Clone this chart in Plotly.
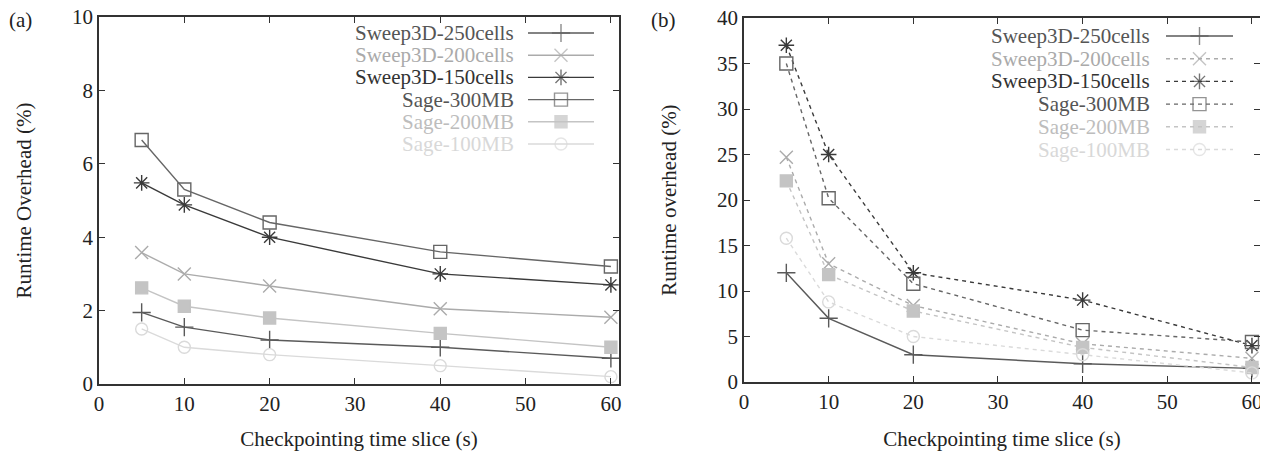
import plotly.graph_objects as go

# ---------------- data ----------------
x_slices = [5, 10, 20, 40, 60]
series_names = ["Sweep3D-250cells", "Sweep3D-200cells", "Sweep3D-150cells",
                "Sage-300MB", "Sage-200MB", "Sage-100MB"]

a_sweep250 = [1.95, 1.55, 1.2, 1.0, 0.7]
a_sweep200 = [3.58, 3.0, 2.67, 2.05, 1.82]
a_sweep150 = [5.48, 4.88, 4.0, 3.0, 2.7]
a_sage300 = [6.65, 5.3, 4.4, 3.6, 3.2]
a_sage200 = [2.62, 2.12, 1.8, 1.38, 1.0]
a_sage100 = [1.5, 1.0, 0.8, 0.5, 0.2]

b_sweep250 = [12.0, 7.0, 3.0, 2.0, 1.5]
b_sweep200 = [24.7, 13.0, 8.4, 4.2, 2.6]
b_sweep150 = [37.0, 25.0, 12.0, 9.0, 4.0]
b_sage300 = [35.0, 20.2, 10.8, 5.7, 4.4]
b_sage200 = [22.1, 11.8, 7.8, 3.8, 1.6]
b_sage100 = [15.8, 8.8, 5.0, 3.0, 1.0]

x_ticks = [0, 10, 20, 30, 40, 50, 60]
a_y_ticks = [0, 2, 4, 6, 8, 10]
b_y_ticks = [0, 5, 10, 15, 20, 25, 30, 35, 40]

# ---------------- layout constants (window pixels) ----------------
W, H = 1268, 451
OFF = 8                      # default page body margin in the browser
FW, FH = W - OFF, H - OFF    # figure size so that it fills the window


def px_x(p):
    return (p - OFF) / FW


def px_y(p):
    return 1 - (p - OFF) / FH


FONT = "Liberation Serif, Times New Roman, DejaVu Serif, serif"
colors = ["#5a5a5a", "#ababab", "#3a3a3a", "#666666", "#c4c4c4", "#dadada"]
text_colors = ["#555555", "#aaaaaa", "#333333", "#555555", "#bdbdbd", "#d8d8d8"]
symbols = ["cross-thin-open", "x-thin-open", "asterisk-open", "square-open", "square", "circle-open"]
sizes = [13, 13, 13, 13, 12, 12]
a_dash = ["solid"] * 6
b_dash = ["solid", "4px,4px", "4px,4px", "4px,4px", "4px,4px", "4px,4px"]

a_data = [a_sweep250, a_sweep200, a_sweep150, a_sage300, a_sage200, a_sage100]
b_data = [b_sweep250, b_sweep200, b_sweep150, b_sage300, b_sage200, b_sage100]

fig = go.Figure()


def add_panel(data, dashes, xa, ya):
    for i, ys in enumerate(data):
        fig.add_trace(go.Scatter(
            x=x_slices, y=ys, mode="lines+markers", xaxis=xa, yaxis=ya,
            name=series_names[i], showlegend=False,
            line=dict(color=colors[i], width=1.4, dash=dashes[i]),
            marker=dict(symbol=symbols[i], size=sizes[i], color=colors[i],
                        line=dict(color=colors[i], width=1.4)),
        ))


add_panel(a_data, a_dash, "x", "y")
add_panel(b_data, b_dash, "x2", "y2")

# ---------------- custom gnuplot-like legends (text left, sample right) ----------------
legend_specs = [
    dict(text_right=516, x0=528, x1=594, y0=33, dy=22.2, dashes=a_dash),
    dict(text_right=1152, x0=1166, x1=1233, y0=36, dy=22.7, dashes=b_dash),
]
annotations = []
for spec in legend_specs:
    for i, name in enumerate(series_names):
        yy = spec["y0"] + i * spec["dy"]
        xm = (spec["x0"] + spec["x1"]) / 2
        fig.add_trace(go.Scatter(
            x=[spec["x0"], xm, spec["x1"]], y=[yy, yy, yy], xaxis="x3", yaxis="y3",
            mode="lines+markers", showlegend=False, hoverinfo="skip",
            line=dict(color=colors[i], width=1.4, dash=spec["dashes"][i]),
            marker=dict(symbol=symbols[i], size=[0, sizes[i], 0], color=colors[i],
                        line=dict(color=colors[i], width=1.4)),
        ))
        annotations.append(dict(
            x=spec["text_right"], y=yy, xref="x3", yref="y3", text=name,
            showarrow=False, xanchor="right", yanchor="middle",
            font=dict(family=FONT, size=21, color=text_colors[i]),
        ))

annotations.append(dict(x=20, y=20, xref="x3", yref="y3", text="(a)", showarrow=False,
                        font=dict(family=FONT, size=21, color="#222222")))
annotations.append(dict(x=663, y=20, xref="x3", yref="y3", text="(b)", showarrow=False,
                        font=dict(family=FONT, size=21, color="#222222")))

axis_common = dict(
    showline=True, linecolor="#333333", linewidth=1.6, mirror="ticks",
    ticks="inside", ticklen=6, tickwidth=1.2, tickcolor="#333333",
    showgrid=False, zeroline=False, ticklabeloverflow="allow", automargin=False,
    tickfont=dict(family=FONT, size=21, color="#222222"),
    title_font=dict(family=FONT, size=21, color="#222222"),
)

fig.update_layout(
    width=FW, height=FH,
    margin=dict(l=0, r=0, t=0, b=0, pad=0, autoexpand=False),
    paper_bgcolor="white", plot_bgcolor="rgba(0,0,0,0)",
    annotations=annotations,
    xaxis=dict(domain=[px_x(99), px_x(619)], range=[0, 60.95], tickvals=x_ticks,
               title=dict(text="Checkpointing time slice (s)", standoff=18),
               anchor="y", **axis_common),
    yaxis=dict(domain=[px_y(384), px_y(17)], range=[0, 10], tickvals=a_y_ticks,
               title=dict(text="Runtime Overhead (%)", standoff=35),
               anchor="x", **axis_common),
    xaxis2=dict(domain=[px_x(744), px_x(1260)], range=[0, 60.95], tickvals=x_ticks,
                title=dict(text="Checkpointing time slice (s)", standoff=18),
                anchor="y2", **axis_common),
    yaxis2=dict(domain=[px_y(382), px_y(18)], range=[0, 40], tickvals=b_y_ticks,
                title=dict(text="Runtime overhead (%)", standoff=35),
                anchor="x2", **axis_common),
    xaxis3=dict(domain=[0, 1], range=[OFF, W], visible=False, fixedrange=True, anchor="y3"),
    yaxis3=dict(domain=[0, 1], range=[H, OFF], visible=False, fixedrange=True, anchor="x3"),
)

fig.write_html("out.html")
